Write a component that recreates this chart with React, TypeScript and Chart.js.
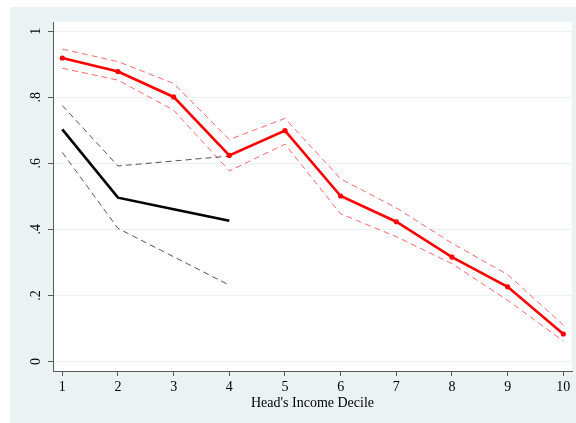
import React, { useEffect, useRef } from "react";
import { Chart, registerables } from "chart.js";

Chart.register(...registerables);

// Income deciles of the household head
const DECILES = [1, 2, 3, 4, 5, 6, 7, 8, 9, 10];
const HEAD_EST = [0.919, 0.878, 0.801, 0.624, 0.699, 0.501, 0.423, 0.316, 0.226, 0.083];
const HEAD_UPPER = [0.946, 0.908, 0.842, 0.672, 0.736, 0.553, 0.465, 0.358, 0.263, 0.11];
const HEAD_LOWER = [0.888, 0.852, 0.761, 0.577, 0.658, 0.447, 0.378, 0.296, 0.185, 0.062];

// Shorter series covering the bottom four deciles
const LOW_DECILES = [1, 2, 3, 4];
const LOW_EST = [0.703, 0.496, 0.461, 0.426];
const LOW_UPPER = [0.775, 0.592, 0.607, 0.622];
const LOW_LOWER = [0.633, 0.403, 0.317, 0.231];

const X_TICKS = [1, 2, 3, 4, 5, 6, 7, 8, 9, 10];
const Y_TICKS = [0, 0.2, 0.4, 0.6, 0.8, 1];
const Y_TICK_LABELS = ["0", ".2", ".4", ".6", ".8", "1"];
const X_TITLE = "Head's Income Decile";

const SERIF = "'Liberation Serif', 'Times New Roman', serif";
const BLUISH = "rgb(234,242,243)";
const AXIS = "#5a5a5a";

const pts = (xs: number[], ys: number[]) => xs.map((x, i) => ({ x, y: ys[i] }));

const framePlugin = {
  id: "frame",
  beforeDraw(chart: any) {
    const { ctx, width, height, chartArea } = chart;
    ctx.save();
    ctx.fillStyle = "#ffffff";
    ctx.fillRect(0, 0, width, height);
    ctx.fillStyle = BLUISH;
    ctx.fillRect(10, 7, width - 10, height - 7);
    ctx.fillStyle = "#ffffff";
    ctx.fillRect(
      chartArea.left,
      chartArea.top,
      chartArea.right - chartArea.left,
      chartArea.bottom - chartArea.top
    );
    ctx.restore();
  },
  afterDraw(chart: any) {
    // vertical (rotated) y-axis labels
    const { ctx, chartArea } = chart;
    const yScale = chart.scales.y;
    ctx.save();
    ctx.fillStyle = "#000";
    ctx.font = `14px ${SERIF}`;
    ctx.textAlign = "center";
    ctx.textBaseline = "alphabetic";
    Y_TICKS.forEach((v, i) => {
      const py = yScale.getPixelForValue(v);
      ctx.save();
      ctx.translate(chartArea.left - 13, py);
      ctx.rotate(-Math.PI / 2);
      ctx.fillText(Y_TICK_LABELS[i], 0, 0);
      ctx.restore();
    });
    ctx.restore();
  },
};

export default function App() {
  const canvasRef = useRef<HTMLCanvasElement | null>(null);

  useEffect(() => {
    if (!canvasRef.current) return;
    const redBand = "rgba(255,0,0,0.6)";
    const grayBand = "rgba(40,40,40,0.8)";
    const chart = new Chart(canvasRef.current, {
      type: "line",
      data: {
        datasets: [
          {
            data: pts(DECILES, HEAD_EST),
            borderColor: "#ff0000",
            backgroundColor: "#ff0000",
            borderWidth: 2.6,
            pointRadius: 2.6,
            pointBorderWidth: 0,
          },
          {
            data: pts(DECILES, HEAD_UPPER),
            borderColor: redBand,
            borderWidth: 1,
            borderDash: [6, 4],
            pointRadius: 0,
          },
          {
            data: pts(DECILES, HEAD_LOWER),
            borderColor: redBand,
            borderWidth: 1,
            borderDash: [6, 4],
            pointRadius: 0,
          },
          {
            data: pts(LOW_DECILES, LOW_EST),
            borderColor: "#000000",
            borderWidth: 2.6,
            pointRadius: 0,
          },
          {
            data: pts(LOW_DECILES, LOW_UPPER),
            borderColor: grayBand,
            borderWidth: 1,
            borderDash: [6, 4],
            pointRadius: 0,
          },
          {
            data: pts(LOW_DECILES, LOW_LOWER),
            borderColor: grayBand,
            borderWidth: 1,
            borderDash: [6, 4],
            pointRadius: 0,
          },
        ],
      },
      options: {
        animation: false,
        responsive: false,
        devicePixelRatio: 1,
        layout: { padding: { left: 10, top: 22, right: 3, bottom: 7 } },
        plugins: {
          legend: { display: false },
          tooltip: { enabled: false },
        },
        elements: { line: { tension: 0 } },
        scales: {
          x: {
            type: "linear",
            min: 0.833,
            max: 10.156,
            afterBuildTicks: (s: any) => {
              s.ticks = X_TICKS.map((v) => ({ value: v }));
            },
            afterFit: (s: any) => {
              s.height = 45;
            },
            grid: {
              drawOnChartArea: false,
              drawTicks: true,
              tickLength: 5,
              tickColor: AXIS,
            },
            border: { display: true, color: AXIS, width: 1 },
            ticks: {
              color: "#000",
              font: { family: SERIF, size: 14 },
              padding: 3,
              maxRotation: 0,
              callback: (v: any) => String(v),
            },
            title: {
              display: true,
              text: X_TITLE,
              color: "#000",
              font: { family: SERIF, size: 14 },
              padding: { top: 0, bottom: 4 },
            },
          },
          y: {
            type: "linear",
            min: -0.029,
            max: 1.028,
            afterBuildTicks: (s: any) => {
              s.ticks = Y_TICKS.map((v) => ({ value: v }));
            },
            afterFit: (s: any) => {
              s.width = 43;
            },
            grid: {
              color: BLUISH,
              lineWidth: 1,
              drawTicks: true,
              tickLength: 5,
              tickColor: AXIS,
            },
            border: { display: true, color: AXIS, width: 1 },
            ticks: { display: false },
          },
        },
      },
      plugins: [framePlugin],
    });
    return () => chart.destroy();
  }, []);

  return (
    <div style={{ position: "absolute", left: 0, top: 0, width: 576, height: 423 }}>
      <canvas ref={canvasRef} width={576} height={423} />
    </div>
  );
}
